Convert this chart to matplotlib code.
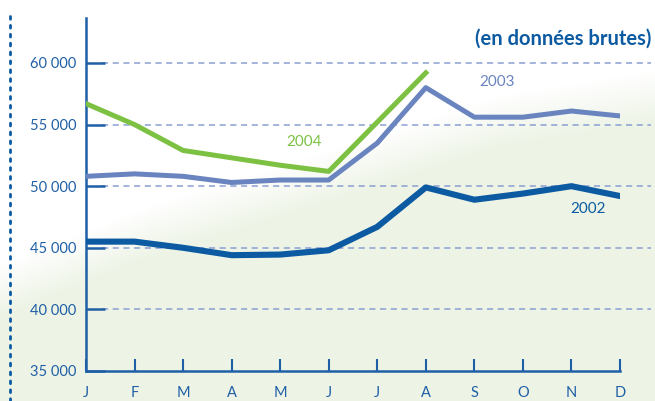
import numpy as np
import matplotlib.pyplot as plt
from matplotlib.lines import Line2D

# monthly values (raw data)
months = ['J', 'F', 'M', 'A', 'M', 'J', 'J', 'A', 'S', 'O', 'N', 'D']
y2002 = [45500, 45500, 45000, 44400, 44450, 44800, 46700, 49900, 48900, 49400, 50000, 49200]
y2003 = [50800, 51000, 50800, 50300, 50500, 50500, 53500, 58000, 55600, 55600, 56100, 55700]
y2004 = [56700, 55000, 52900, 52300, 51700, 51200, 55200, 59200]
yticks = [35000, 40000, 45000, 50000, 55000, 60000]
ytick_labels = ['35 000', '40 000', '45 000', '50 000', '55 000', '60 000']

dark_blue = '#0b5aa2'
mid_blue = '#6a84bf'
green = '#7cc142'
axis_blue = '#1f5fa6'
grid_blue = '#8c9fd2'

plt.rcParams['font.family'] = ['Lato', 'DejaVu Sans']

W, H = 655, 401
fig = plt.figure(figsize=(W / 100, H / 100), dpi=100)
fig.patch.set_facecolor('white')

# soft light green background hill
bg = fig.add_axes([0, 0, 1, 1], zorder=-1)
px = np.arange(W)
py = np.arange(H)[:, None]
edge = np.interp(px, [0, 150, 330, 500, 655], [290, 230, 175, 120, 95])
alpha = np.clip(0.5 + (py - edge[None, :]) / 50.0, 0, 1)
img = np.ones((H, W, 3))
tint = np.array([0.933, 0.957, 0.905])
img = img * (1 - alpha[..., None]) + tint * alpha[..., None]
bg.imshow(img, extent=[0, W, H, 0], aspect='auto', interpolation='bilinear')
bg.set_xlim(0, W)
bg.set_ylim(H, 0)
bg.axis('off')

# dotted vertical rule on the left
fig.add_artist(Line2D([10 / W, 10 / W], [0, 1 - 10 / H], transform=fig.transFigure,
                      color=dark_blue, linestyle=(0, (1, 2.2)), linewidth=2,
                      dash_capstyle='round'))

ax = fig.add_axes([86 / W, 1 - 371 / H, (620 - 86) / W, (371 - 18) / H])
ax.patch.set_alpha(0)

x = list(range(len(months)))
ax.set_xlim(0, 11)
ax.set_ylim(35000, 63650)

# dashed gridlines running past the right edge
for v in yticks[1:]:
    ax.axhline(v, xmin=0.03, xmax=1.058, color=grid_blue, linestyle=(0, (4, 3)),
               linewidth=1.1, clip_on=False, zorder=1)

ax.plot(x, y2002, color=dark_blue, linewidth=4.4, zorder=3)
ax.plot(x, y2003, color=mid_blue, linewidth=3.6, zorder=3)
ax.plot(x[:len(y2004)], y2004, color=green, linewidth=3.6, zorder=4)

ax.text(4.12, 53300, '2004', color=green, fontsize=11)
ax.text(8.11, 58150, '2003', color=mid_blue, fontsize=11)
ax.text(9.97, 47850, '2002', color=dark_blue, fontsize=11)
fig.text(651 / W, 1 - 39 / H, '(en données brutes)', ha='right', va='center',
         color=dark_blue, fontsize=14.5, fontweight='bold')

for s in ['top', 'right']:
    ax.spines[s].set_visible(False)
for s in ['left', 'bottom']:
    ax.spines[s].set_color(axis_blue)
    ax.spines[s].set_linewidth(1.8)

ax.set_yticks(yticks)
ax.set_yticklabels(ytick_labels)
ax.tick_params(axis='y', direction='in', length=14, width=1.8, color=axis_blue,
               labelcolor=axis_blue, labelsize=10.5, pad=7)
ax.set_xticks(x)
ax.set_xticklabels(months)
ax.tick_params(axis='x', direction='in', length=9, width=1.5, color=axis_blue,
               labelcolor=axis_blue, labelsize=10.5, pad=11)

fig.savefig('out.png', dpi=100)
